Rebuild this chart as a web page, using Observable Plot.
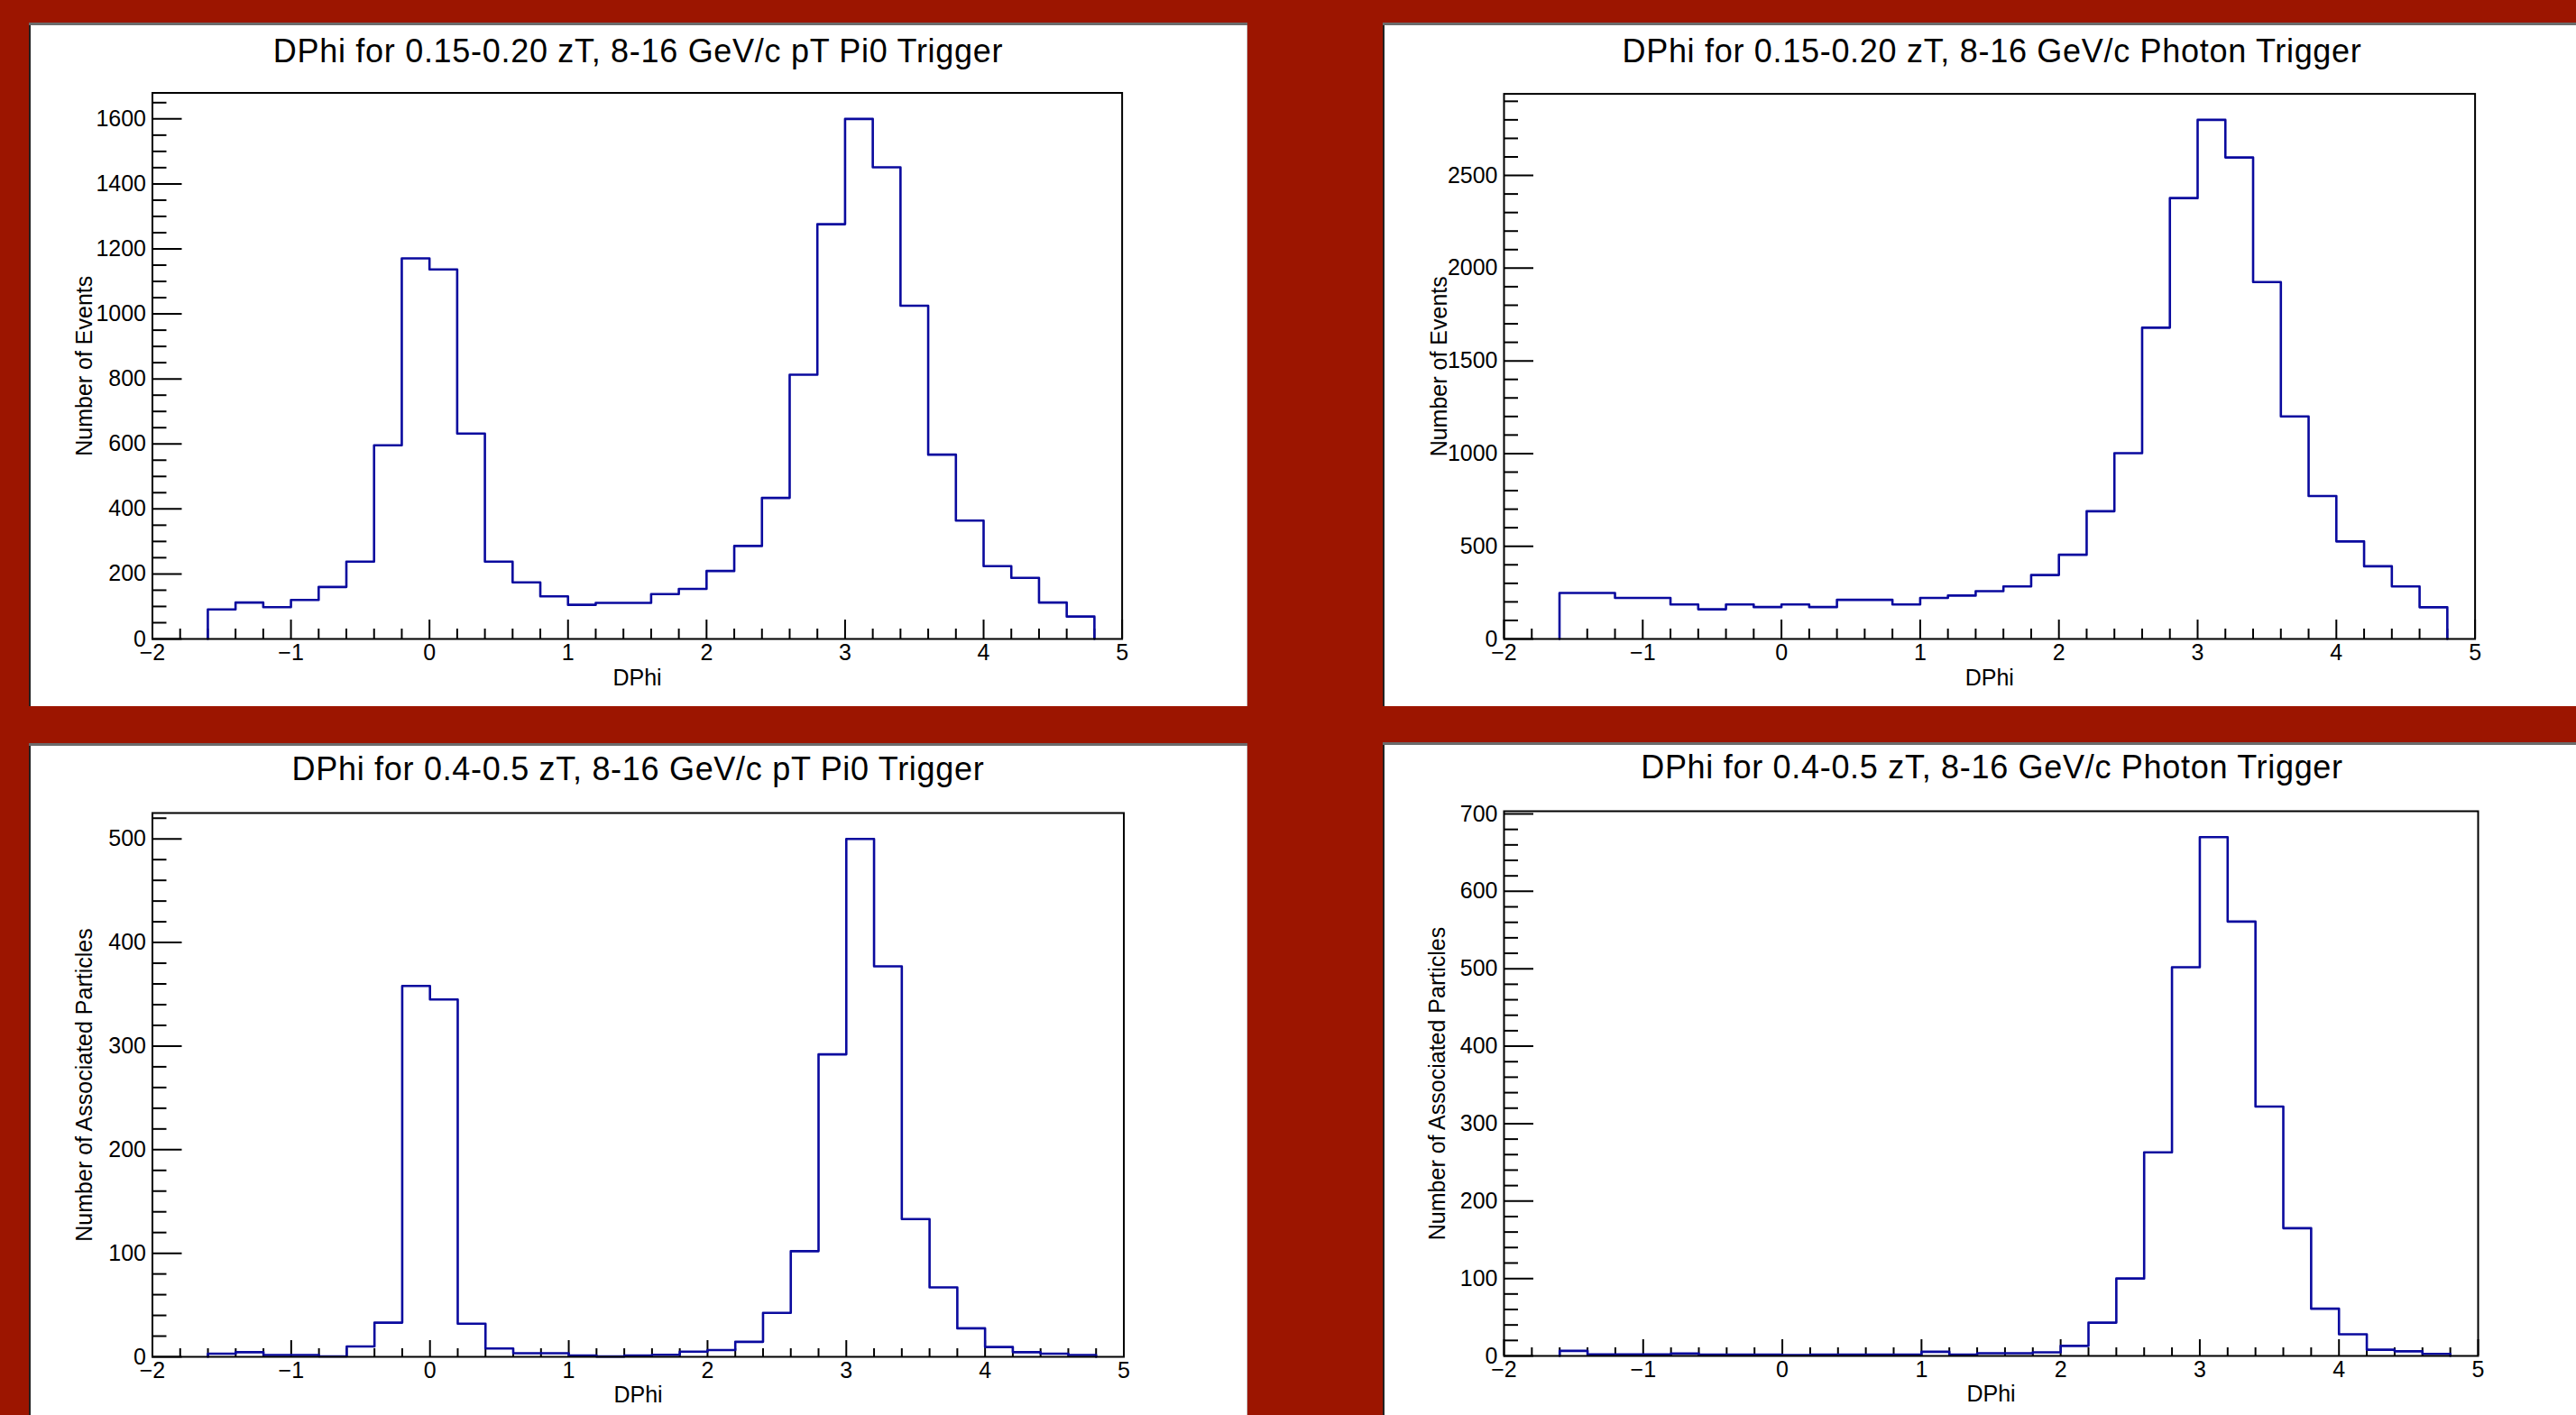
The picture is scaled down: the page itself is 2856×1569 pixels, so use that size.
<!DOCTYPE html>
<html><head><meta charset="utf-8">
<script src="https://cdn.jsdelivr.net/npm/d3@7"></script>
<script src="https://cdn.jsdelivr.net/npm/@observablehq/plot@0.6"></script>
<style>
html,body{margin:0;padding:0;}
body{width:2856px;height:1569px;background:#9c1500;position:relative;overflow:hidden;font-family:"Liberation Sans",Arial,Helvetica,sans-serif;}
.panel{position:absolute;background:#fff;width:1351px;height:758px;overflow:hidden;}
.title{position:absolute;left:0;width:100%;text-align:center;font-size:36px;line-height:36px;letter-spacing:0.7px;color:#000;white-space:nowrap;}
.panel svg{position:absolute;left:0;}
.edge{position:absolute;left:0;top:0;right:0;bottom:0;pointer-events:none;box-shadow:inset 0 3px 0 #6b6b6b, inset 2px 0 0 #222, inset -1px 0 0 #ccc;}
</style></head><body>
<script>
// ---- data ----
const binStarts = [-1.6,-1.4,-1.2,-1.0,-0.8,-0.6,-0.4,-0.2,0.0,0.2,0.4,0.6,0.8,1.0,1.2,1.4,1.6,1.8,2.0,2.2,2.4,2.6,2.8,3.0,3.2,3.4,3.6,3.8,4.0,4.2,4.4,4.6];
const binWidth = 0.2;

const pi0Low    = [91,112,98,120,160,238,596,1171,1137,632,238,174,131,105,111,111,138,154,209,286,434,813,1276,1600,1451,1025,567,364,224,188,112,69];
const photonLow = [248,248,221,221,186,160,186,172,186,172,211,211,186,221,234,258,283,345,454,689,1002,1679,2378,2800,2597,1925,1200,771,526,392,283,171];
const pi0High   = [3,4.5,1.7,1.7,0.5,10,33,358,345,32,8,3.5,3.5,1.2,0.3,1.2,2,5,6.5,14.5,42.5,102,292,500,377,133,67,27.5,9.5,4.5,3,1.7];
const photonHigh= [6.6,2,2,2,3,1.6,1.6,1.6,1,1.6,1.6,1.6,1.6,5.4,1.6,3.5,3.5,4.7,13,43,100,263,502,670,561,322,165,61,28,8,6,2.7];

const titles = [
  "DPhi for 0.15-0.20 zT, 8-16 GeV/c pT Pi0 Trigger",
  "DPhi for 0.15-0.20 zT, 8-16 GeV/c Photon Trigger",
  "DPhi for 0.4-0.5 zT, 8-16 GeV/c pT Pi0 Trigger",
  "DPhi for 0.4-0.5 zT, 8-16 GeV/c Photon Trigger"
];
const xLabel = "DPhi";
const yLabelEvents = "Number of Events";
const yLabelAssoc = "Number of Associated Particles";

const xMajor = [-2,-1,0,1,2,3,4,5];
const xMinor = d3.range(-10, 26).filter(i => i % 5 !== 0).map(i => i / 5);
const yMajorPi0Low = [0,200,400,600,800,1000,1200,1400,1600];
const yMinorPi0Low = d3.range(0, 1651, 50).filter(v => v % 200 !== 0);
const yMajorPhotonLow = [0,500,1000,1500,2000,2500];
const yMinorPhotonLow = d3.range(0, 2901, 100).filter(v => v % 500 !== 0);
const yMajorPi0High = [0,100,200,300,400,500];
const yMinorPi0High = d3.range(0, 521, 20).filter(v => v % 100 !== 0);
const yMajorPhotonHigh = [0,100,200,300,400,500,600,700];
const yMinorPhotonHigh = d3.range(0, 701, 20).filter(v => v % 100 !== 0);

// ---- drawing ----
const W = 1351, H = 758, SVG_TOP = 55;
const FONT = "'Liberation Sans', Arial, Helvetica, sans-serif";

function panel(cfg) {
  const div = document.createElement("div");
  div.className = "panel";
  div.style.left = cfg.left + "px";
  div.style.top = cfg.top + "px";
  const t = document.createElement("div");
  t.className = "title";
  t.textContent = cfg.title;
  t.style.top = (cfg.titleBaseline - 30.5) + "px";
  div.appendChild(t);

  const [fl, fr, ft, fb] = cfg.frame;
  const plotW = fr - fl, plotH = fb - ft;
  const last = binStarts.length - 1;
  const pts = [{x: binStarts[0], y: 0}]
    .concat(binStarts.map((b, i) => ({x: b, y: cfg.values[i]})))
    .concat([{x: binStarts[last] + binWidth, y: 0}]);
  const ymax = d3.max(cfg.values) * 1.05;

  const svg = Plot.plot({
    width: W,
    height: H - SVG_TOP,
    marginLeft: fl,
    marginRight: W - fr,
    marginTop: ft - SVG_TOP,
    marginBottom: H - fb,
    x: {domain: [-2, 5]},
    y: {domain: [0, ymax]},
    style: {fontFamily: FONT, fontSize: "25px", background: "transparent", overflow: "visible", color: "black"},
    marks: [
      Plot.ruleX(xMinor, {x: d => d, stroke: "black", strokeWidth: 2, insetTop: plotH - cfg.xTick[1]}),
      Plot.ruleX(xMajor, {x: d => d, stroke: "black", strokeWidth: 2, insetTop: plotH - cfg.xTick[0]}),
      Plot.ruleY(cfg.yMinor, {y: d => d, stroke: "black", strokeWidth: 2, insetRight: plotW - 16}),
      Plot.ruleY(cfg.yMajor, {y: d => d, stroke: "black", strokeWidth: 2, insetRight: plotW - 33}),
      Plot.axisX({ticks: xMajor, tickSize: 0, tickPadding: 6, tickFormat: d3.format("d"), label: null, fontSize: 25}),
      Plot.axisY({ticks: cfg.yMajor, tickSize: 0, tickPadding: 7, tickFormat: d3.format("d"), label: null, fontSize: 25}),
      Plot.line(pts, {x: "x", y: "y", curve: "step-after", stroke: "#0a0a9e", strokeWidth: 2.6}),
      Plot.frame({stroke: "black", strokeWidth: 2}),
      Plot.text([xLabel], {text: d => d, frameAnchor: "bottom", textAnchor: "middle", lineAnchor: "middle", dy: cfg.xLabelDy, fontSize: 25}),
      Plot.text([cfg.yLabel], {text: d => d, frameAnchor: "left", textAnchor: "middle", lineAnchor: "middle", rotate: -90, dx: cfg.yLabelDx, fontSize: 25})
    ]
  });
  svg.style.top = SVG_TOP + "px";
  div.appendChild(svg);
  const edge = document.createElement("div");
  edge.className = "edge";
  div.appendChild(edge);
  document.body.appendChild(div);
}

panel({left: 32, top: 25, title: titles[0], titleBaseline: 44, values: pi0Low,
  frame: [136.5, 1211.6, 77.5, 683], yMajor: yMajorPi0Low, yMinor: yMinorPi0Low,
  xTick: [21, 11], xLabelDy: 43, yLabel: yLabelEvents, yLabelDx: -75});
panel({left: 1533, top: 25, title: titles[1], titleBaseline: 44, values: photonLow,
  frame: [134, 1210.6, 78.6, 683], yMajor: yMajorPhotonLow, yMinor: yMinorPhotonLow,
  xTick: [21, 11], xLabelDy: 43, yLabel: yLabelEvents, yLabelDx: -72});
panel({left: 32, top: 824, title: titles[2], titleBaseline: 41, values: pi0High,
  frame: [136.5, 1213.5, 77, 680], yMajor: yMajorPi0High, yMinor: yMinorPi0High,
  xTick: [18, 9], xLabelDy: 42, yLabel: yLabelAssoc, yLabelDx: -75});
panel({left: 1533, top: 823, title: titles[3], titleBaseline: 40, values: photonHigh,
  frame: [134, 1214, 76, 680], yMajor: yMajorPhotonHigh, yMinor: yMinorPhotonHigh,
  xTick: [18, 9], xLabelDy: 42, yLabel: yLabelAssoc, yLabelDx: -74});
</script>
</body></html>
